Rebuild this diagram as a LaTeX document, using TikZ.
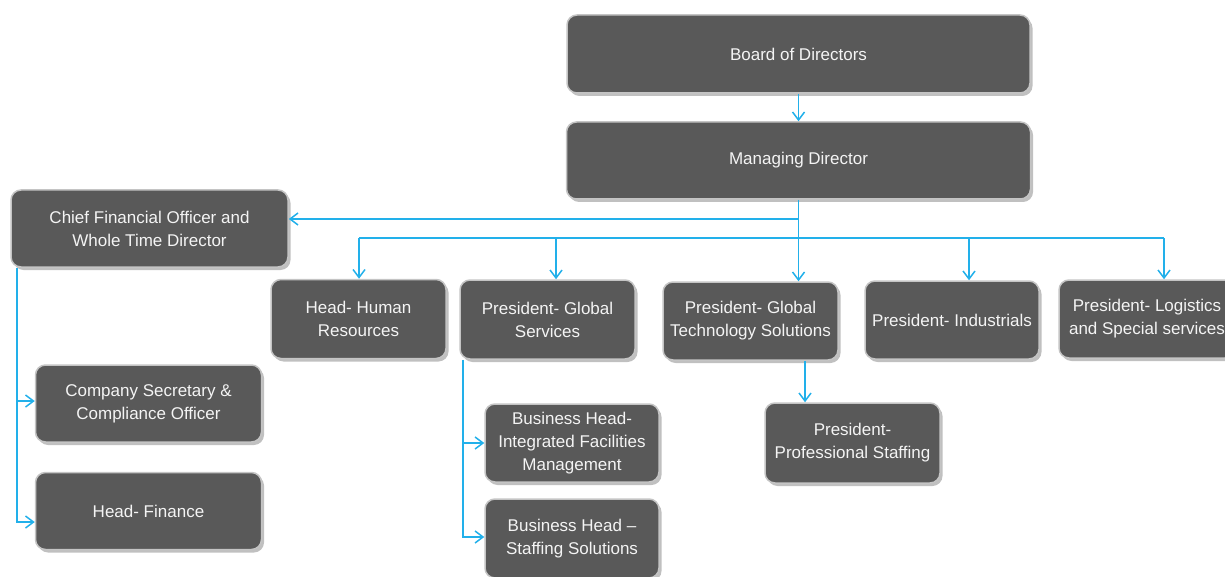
\documentclass[tikz,border=0pt]{standalone}
\usepackage{fontspec}
\setmainfont{Liberation Sans}
\usetikzlibrary{arrows.meta,shadows}
\definecolor{boxfill}{HTML}{595959}
\definecolor{boxline}{HTML}{C4C4C4}
\definecolor{conncol}{HTML}{22B0EA}
\definecolor{boxtext}{HTML}{F4F4F4}
\begin{document}
\begin{tikzpicture}[x=1pt,y=-1pt,
  orgbox/.style={draw=boxline, line width=1.5pt, fill=boxfill, rounded corners=10pt,
    text=boxtext, inner sep=0pt, align=center, font=\fontsize{17}{23}\selectfont,
    drop shadow={shadow xshift=2.5pt, shadow yshift=-3pt, fill=black!45, opacity=0.55}},
  onelinebox/.style={orgbox, text depth=2pt},
  conn/.style={draw=conncol, line width=1.5pt, -{Straight Barb[length=8pt,width=12pt]}},
  connline/.style={draw=conncol, line width=1.5pt}]
\useasboundingbox (0,0) rectangle (1225,577);
\clip (0,0) rectangle (1225,577);

\node[orgbox, minimum width=463pt, minimum height=78pt] (board) at (798.5,54) {Board of Directors};
\node[orgbox, minimum width=464pt, minimum height=77pt] (md) at (798.5,160.5) {Managing Director};
\node[orgbox, minimum width=277pt, minimum height=77pt] (cfo) at (149.5,228.5) {Chief Financial Officer and\\Whole Time Director};
\node[orgbox, minimum width=175pt, minimum height=79pt] (hr) at (358.5,319) {Head- Human\\Resources};
\node[orgbox, minimum width=175pt, minimum height=79pt] (gs) at (547.5,319.5) {President- Global\\Services};
\node[orgbox, minimum width=175pt, minimum height=78pt] (gt) at (750.5,321) {President- Global\\Technology Solutions};
\node[orgbox, minimum width=174pt, minimum height=78pt] (ind) at (952,320) {President- Industrials};
\node[orgbox, minimum width=176pt, minimum height=78pt] (log) at (1147,319) {President- Logistics\\and Special services};
\node[orgbox, minimum width=226pt, minimum height=77pt] (cs) at (148.5,403.5) {Company Secretary \&\\Compliance Officer};
\node[orgbox, minimum width=226pt, minimum height=77pt] (hf) at (148.5,511) {Head- Finance};
\node[orgbox, minimum width=174pt, minimum height=78pt] (ifm) at (572,443) {Business Head-\\Integrated Facilities\\Management};
\node[orgbox, minimum width=174pt, minimum height=79pt] (ss) at (572,538.5) {Business Head --\\Staffing Solutions};
\node[orgbox, minimum width=175pt, minimum height=80pt] (ps) at (852.5,443) {President-\\Professional Staffing};

% connectors
\draw[conn] (board.south) -- (md.north);
\draw[conn] (md.south) -- (md.south |- gt.north);
\coordinate (jc) at (798.5,219);
\draw[conn] (jc) -- (jc -| cfo.east);
\coordinate (bl) at (359,238);
\coordinate (br) at (1164,238);
\coordinate (gsd) at (556,238);
\coordinate (indd) at (969,238);
\draw[connline] (bl) -- (br);
\draw[conn] (bl) -- (bl |- hr.north);
\draw[conn] (gsd) -- (gsd |- gs.north);
\draw[conn] (indd) -- (indd |- ind.north);
\draw[conn] (br) -- (br |- log.north);
% CFO branch
\coordinate (cl) at (17,0);
\coordinate (csin) at ([yshift=2.5pt]cs.west);
\coordinate (hfin) at ([yshift=-11pt]hf.west);
\draw[conn] (cl |- cfo.south) |- (hfin);
\draw[conn] (cl |- csin) -- (csin);
% Global services branch
\coordinate (gl) at (463,0);
\coordinate (ssin) at ([yshift=1.5pt]ss.west);
\draw[conn] (gl |- gs.south) |- (ssin);
\draw[conn] (gl |- ifm.west) -- (ifm.west);
% Global technology branch
\coordinate (pl) at (805,0);
\draw[conn] (pl |- gt.south) -- (pl |- ps.north);
\end{tikzpicture}
\end{document}
